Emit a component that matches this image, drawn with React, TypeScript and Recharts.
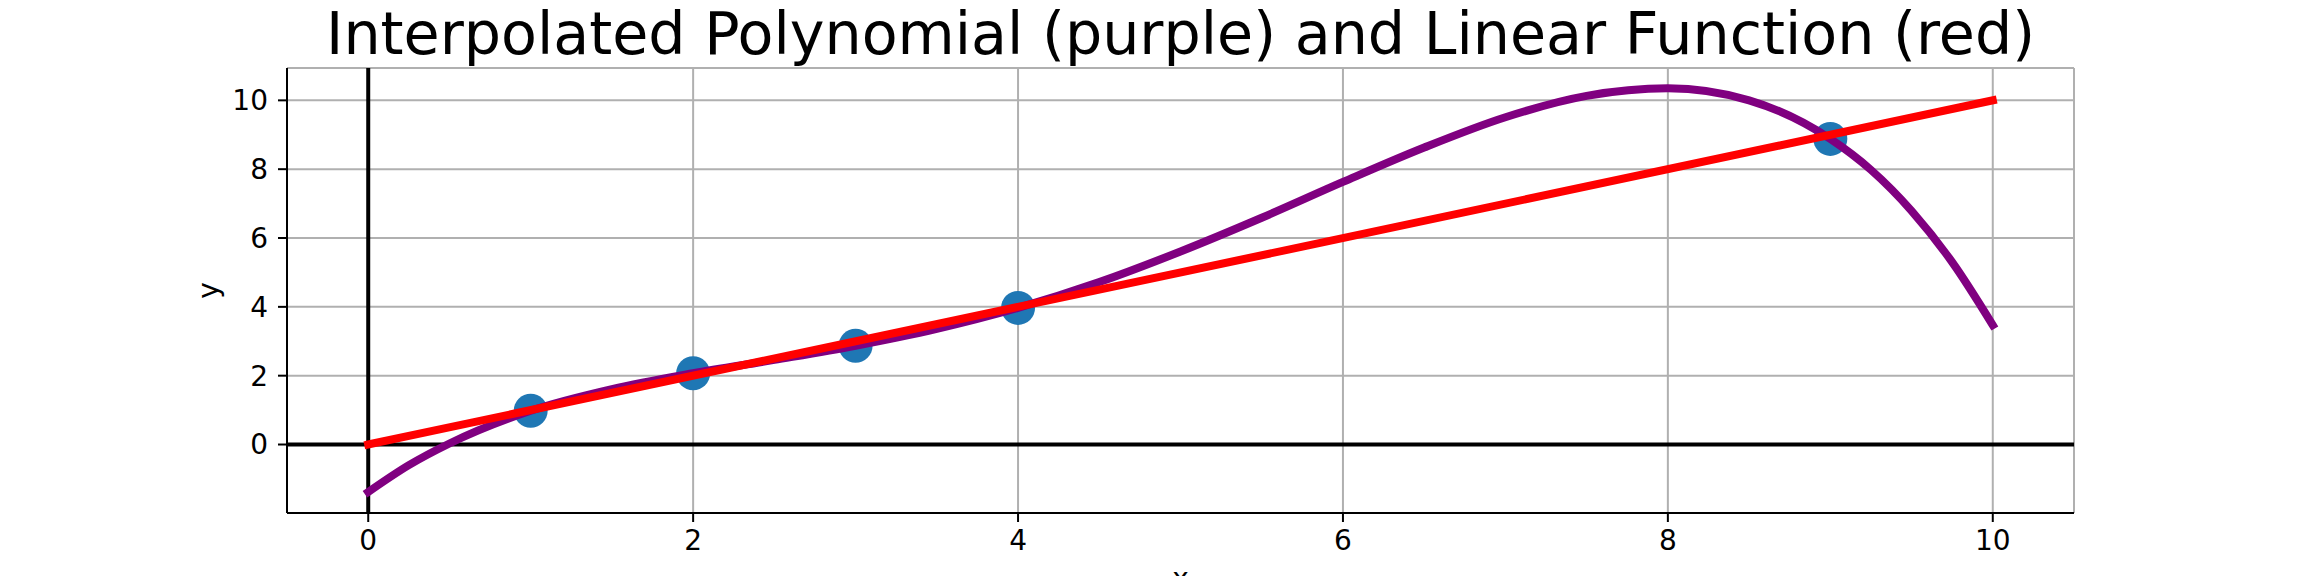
import React from 'react';
import {
  ComposedChart,
  Line,
  Scatter,
  XAxis,
  YAxis,
  CartesianGrid,
  ReferenceLine,
} from 'recharts';

const curveX = [0, 0.25, 0.5, 1, 1.5, 2, 2.5, 3, 3.5, 4, 4.5, 5, 5.5, 6, 6.5, 7, 7.5, 8, 8.5, 9, 9.25, 9.5, 9.75, 10];
const curveY = [-1.38, -0.6, 0.03, 0.98, 1.61, 2.07, 2.46, 2.87, 3.36, 3.97, 4.72, 5.61, 6.59, 7.63, 8.63, 9.51, 10.13, 10.35, 10.0, 8.88, 7.98, 6.79, 5.3, 3.47];

// the sample points (blue)
const pointX = [1, 2, 3, 4, 9];
const pointY = [0.98, 2.07, 2.87, 3.97, 8.88];

// linear function y = x, drawn from its two ends
const lineX = [0, 10];
const lineY = [0, 10];

const xTicks = [0, 2, 4, 6, 8, 10];
const yTicks = [0, 2, 4, 6, 8, 10];

const curveData = curveX.map((x, i) => ({ x, y: curveY[i] }));
const pointData = pointX.map((x, i) => ({ x, y: pointY[i] }));
const lineData = lineX.map((x, i) => ({ x, y: lineY[i] }));

const FONT = 'DejaVu Sans, sans-serif';
const tickStyle = { fontFamily: FONT, fontSize: 28, fill: '#000' };

const Dot = (props: any) => (
  <circle cx={props.cx} cy={props.cy} r={17} fill="#1f77b4" />
);

export default function App() {
  return (
    <div style={{ position: 'absolute', left: 0, top: 0, width: 2304, height: 576, background: '#fff' }}>
      <ComposedChart
        width={2304}
        height={576}
        margin={{ top: 68, right: 230, bottom: 23, left: 200 }}
      >
        <CartesianGrid stroke="#b0b0b0" strokeWidth={2} />
        <XAxis
          dataKey="x"
          type="number"
          domain={[-0.5, 10.5]}
          ticks={xTicks}
          allowDataOverflow
          height={40}
          tick={tickStyle}
          tickSize={9}
          tickMargin={8}
          axisLine={{ stroke: '#000', strokeWidth: 2 }}
          tickLine={{ stroke: '#000', strokeWidth: 2 }}
        />
        <XAxis
          xAxisId="top"
          orientation="top"
          type="number"
          domain={[-0.5, 10.5]}
          height={0}
          tick={false}
          tickLine={false}
          axisLine={{ stroke: '#000', strokeWidth: 2 }}
        />
        <YAxis
          type="number"
          domain={[-1.99, 10.94]}
          ticks={yTicks}
          allowDataOverflow
          width={87}
          tick={tickStyle}
          tickSize={9}
          tickMargin={10}
          axisLine={{ stroke: '#000', strokeWidth: 2 }}
          tickLine={{ stroke: '#000', strokeWidth: 2 }}
        />
        <YAxis
          yAxisId="right"
          orientation="right"
          type="number"
          domain={[-1.99, 10.94]}
          width={0}
          tick={false}
          tickLine={false}
          axisLine={{ stroke: '#000', strokeWidth: 2 }}
        />
        <ReferenceLine y={0} stroke="#000" strokeWidth={4} />
        <ReferenceLine x={0} stroke="#000" strokeWidth={4} />
        <Scatter data={pointData} dataKey="y" shape={Dot} isAnimationActive={false} zIndex={350} />
        <Line
          data={curveData}
          dataKey="y"
          type="monotone"
          stroke="#800080"
          strokeWidth={8}
          dot={false}
          activeDot={false}
          strokeLinecap="square"
          isAnimationActive={false}
        />
        <Line
          data={lineData}
          dataKey="y"
          type="linear"
          stroke="#ff0000"
          strokeWidth={8}
          dot={false}
          activeDot={false}
          strokeLinecap="square"
          isAnimationActive={false}
        />
        <text x={1180.6} y={54} textAnchor="middle" fontFamily={FONT} fontSize={58.7} fill="#000">
          Interpolated Polynomial (purple) and Linear Function (red)
        </text>
        <text x={218} y={290.5} textAnchor="middle" fontFamily={FONT} fontSize={28} fill="#000" transform="rotate(-90, 218, 290.5)">
          y
        </text>
        <text x={1180.6} y={588} textAnchor="middle" fontFamily={FONT} fontSize={28} fill="#000">
          x
        </text>
      </ComposedChart>
    </div>
  );
}
